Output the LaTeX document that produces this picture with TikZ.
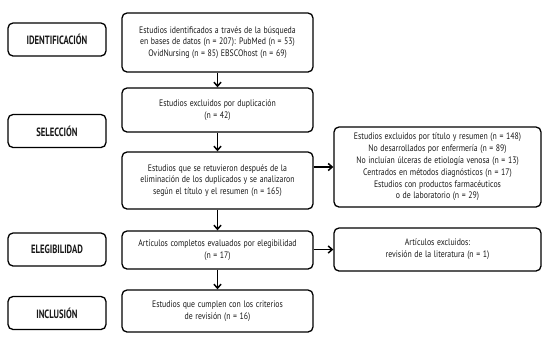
\documentclass[tikz,border=0pt]{standalone}
\usepackage{fontspec}
\setmainfont{PT Sans}[FakeStretch=0.83, WordSpace=1.25]
\newfontfamily\stagefont{PT Sans}[FakeStretch=0.72]
\usepackage{tikz}
\usetikzlibrary{positioning, arrows.meta}

\begin{document}
\begin{tikzpicture}[x=1pt, y=-1pt,
  stage/.style={rectangle, draw, rounded corners=5pt, line width=1.3pt,
              minimum width=98pt, minimum height=33pt, inner sep=0pt,
              font=\stagefont\fontsize{12}{14}\selectfont\bfseries, text=black!90},
  box/.style={rectangle, draw, rounded corners=5pt, line width=1.3pt,
              minimum width=191pt, inner sep=0pt, align=center,
              font=\fontsize{9.4}{11.8}\selectfont, text=black!90},
  side/.style={box, minimum width=207pt},
  arrow/.style={-{Straight Barb[length=4pt, width=7pt]}, line width=1.5pt}
]
\useasboundingbox (0,0) rectangle (550,349);

% stages
\node[stage] (ident) at (57,39.5)  {IDENTIFICACIÓN};
\node[stage] (selec) at (57,131)   {SELECCIÓN};
\node[stage] (elegi) at (57,249.5) {ELEGIBILIDAD};
\node[stage] (inclu) at (57,313)   {INCLUSIÓN};

% main flow
\node[box, minimum height=59pt] (found) at (217.5,42.5)
  {Estudios identificados a través de la búsqueda\\
   en bases de datos (n = 207): PubMed (n = 53)\\
   OvidNursing (n = 85) EBSCOhost (n = 69)};
\node[box, minimum height=44pt] (dupl) at (217.5,110)
  {Estudios excluidos por duplicación\\(n = 42)};
\node[box, minimum height=57pt] (screen) at (217.5,180.5)
  {Estudios que se retuvieron después de la\\
   eliminación de los duplicados y se analizaron\\
   según el título y el resumen (n = 165)};
\node[box, minimum height=38pt] (full) at (217.5,250)
  {Artículos completos evaluados por elegibilidad\\(n = 17)};
\node[box, minimum height=42pt] (incl) at (217.5,311)
  {Estudios que cumplen con los criterios\\de revisión (n = 16)};

% exclusions
\node[side, minimum height=80pt] (excl) at (437.5,167)
  {Estudios excluidos por título y resumen (n = 148)\\
   No desarrollados por enfermería (n = 89)\\
   No incluían úlceras de etiología venosa (n = 13)\\
   Centrados en métodos diagnósticos (n = 17)\\
   Estudios con productos farmacéuticos\\
   o de laboratorio (n = 29)};
\node[side, minimum height=43pt] (review) at (437.5,249.5)
  {Artículos excluidos:\\revisión de la literatura (n = 1)};

\draw[arrow] (found) -- (dupl);
\draw[arrow] (dupl)  -- (screen);
\draw[arrow] (screen) -- (full);
\draw[arrow] (full)  -- (incl);
\draw[arrow] (screen.east |- excl.west) -- (excl.west);
\draw[arrow] (full.east |- review.west) -- (review.west);
\end{tikzpicture}
\end{document}
